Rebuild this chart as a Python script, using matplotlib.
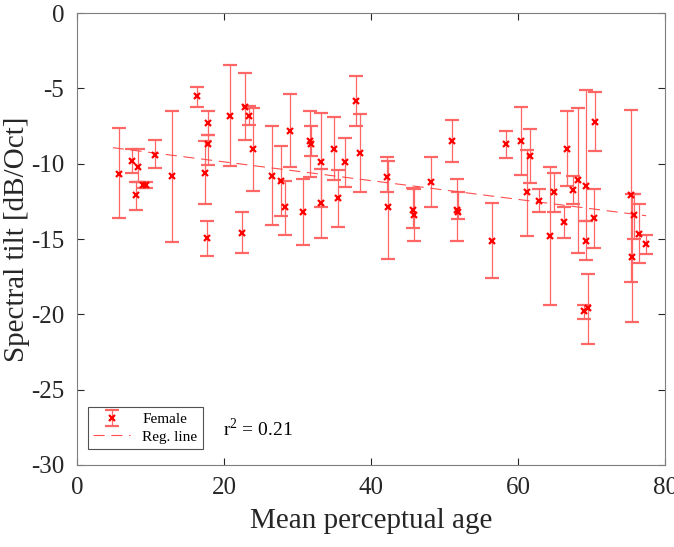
import numpy as np
import matplotlib
matplotlib.use("Agg")
import matplotlib.pyplot as plt
from matplotlib.lines import Line2D

plt.rcParams['font.family'] = ['Liberation Serif', 'DejaVu Serif']
plt.rcParams['mathtext.fontset'] = 'custom'
plt.rcParams['mathtext.rm'] = 'Liberation Serif'

# mean perceptual age, spectral tilt and error bar limits
age = [5.7, 7.5, 8.3, 8.1, 9.0, 9.4, 10.6, 12.9, 16.3, 17.9, 17.9, 17.4, 17.7,
       20.8, 22.9, 23.4, 23.9, 22.5, 26.6, 27.8, 28.3, 29.0, 30.7, 31.7, 31.8,
       33.2, 33.2, 35.0, 35.5, 36.4, 37.9, 38.5, 42.2, 42.3, 45.7, 45.8, 48.1,
       51.0, 51.7, 51.8, 56.4, 58.4, 60.4, 61.6, 61.2, 62.9, 64.3, 64.9, 66.3,
       66.7, 67.5, 68.2, 69.2, 69.2, 68.9, 69.5, 70.4, 70.3, 75.3, 75.5, 75.8,
       76.4, 77.4]
tilt = [-10.7, -9.8, -10.2, -12.1, -11.4, -11.4, -9.4, -10.8, -5.5, -7.3, -8.7,
        -10.6, -14.9, -6.8, -6.2, -6.8, -9.05, -14.6, -10.8, -11.15, -12.9, -7.8,
        -13.2, -8.5, -8.7, -9.9, -12.6, -9.0, -12.3, -9.9, -5.85, -9.3, -10.85,
        -12.9, -13.1, -13.4, -11.2, -8.5, -13.05, -13.2, -15.1, -8.7, -8.5, -9.5,
        -11.9, -12.45, -14.8, -11.9, -13.9, -9.0, -11.75, -11.1, -11.45, -15.1,
        -19.8, -19.6, -7.2, -13.6, -12.1, -16.2, -13.4, -14.65, -15.35]
tilt_low = [-13.6, -10.6, -11.2, -13.1, -11.6, -11.6, -10.3, -15.2, -6.2, -8.1,
            -10.1, -12.7, -16.1, -10.15, -8.4, -7.4, -11.8, -15.9, -14.1, -13.5,
            -14.75, -10.2, -15.4, -10.9, -9.5, -12.9, -14.9, -11.1, -14.2, -11.55,
            -7.5, -11.9, -11.85, -16.3, -14.3, -15.1, -12.9, -9.9, -15.1, -13.7,
            -17.6, -9.6, -10.75, -11.3, -14.8, -13.2, -19.35, -13.2, -14.9, -11.5,
            -12.7, -15.9, -13.8, -16.4, -20.3, -22.0, -9.15, -15.6, -17.85, -20.5,
            -15.0, -16.6, -16.0]
tilt_high = [-7.6, -9.0, -9.0, -11.2, -11.2, -11.2, -8.4, -6.5, -4.9, -6.5, -8.1,
             -8.5, -13.8, -3.45, -4.0, -6.15, -6.3, -13.2, -7.5, -8.8, -11.15, -5.4,
             -11.0, -6.5, -7.5, -6.6, -10.35, -6.9, -10.4, -8.3, -4.2, -6.7, -9.55,
             -9.8, -11.6, -11.7, -9.55, -7.1, -11.0, -11.9, -12.6, -7.8, -6.25, -7.7,
             -9.1, -11.7, -10.2, -10.6, -12.9, -6.5, -10.8, -6.3, -5.1, -13.8, -19.4,
             -17.3, -5.25, -11.65, -6.4, -12.0, -12.0, -12.7, -14.7]

reg_slope = -0.0623
reg_intercept = -8.63
r2 = 0.21

age = np.array(age)
tilt = np.array(tilt)
yerr = [tilt - np.array(tilt_low), np.array(tilt_high) - tilt]

fig = plt.figure(figsize=(6.74, 5.47), dpi=100)
ax = fig.add_axes([0.114, 0.150, 0.873, 0.826])

ax.errorbar(age, tilt, yerr=yerr, fmt='x', color='red', ecolor=(1, 0.4, 0.4),
            elinewidth=0.9, capsize=5, capthick=0.9, markersize=5,
            markeredgewidth=1.6, label='Female')
xr = np.array([age.min() - 0.8, age.max()])
ax.plot(xr, reg_slope * xr + reg_intercept, color=(1, 0.3, 0.3), lw=0.8,
        dashes=(10, 6), label='Reg. line')

ax.set_xlim(0, 80)
ax.set_ylim(-30, 0)
ax.set_xticks([0, 20, 40, 60, 80])
ax.set_yticks([-30, -25, -20, -15, -10, -5, 0])
ax.set_yticklabels(['-30', '-25', '-20', '-15', '-10', '-5', '0'])
ax.tick_params(direction='in', top=True, right=True, labelsize=18,
               colors='#262626', length=5, width=0.8, pad=9)
for s in ax.spines.values():
    s.set_color('#7f7f7f')
    s.set_linewidth(0.8)
ax.set_xlabel('Mean perceptual age', fontsize=21, color='#262626', labelpad=6)
ax.set_ylabel('Spectral tilt [dB/Oct]', fontsize=21, color='#262626', labelpad=1)

handles = [
    ax.containers[0],
    Line2D([], [], color=(1, 0.3, 0.3), lw=0.8, dashes=(10, 6)),
]
leg = ax.legend(handles, ['Female', 'Reg. line'], loc='lower left',
                bbox_to_anchor=(0.006, 0.018), fontsize=11, frameon=True,
                fancybox=False, edgecolor='#262626', handlelength=2.4,
                borderpad=0.35, labelspacing=0.25, handletextpad=0.8)
leg.get_frame().set_linewidth(0.8)

ax.text(0.248, 0.08, 'r$^2$ = %.2f' % r2, transform=ax.transAxes,
        fontsize=14, va='center', ha='left')

fig.savefig('out.png', dpi=100)
